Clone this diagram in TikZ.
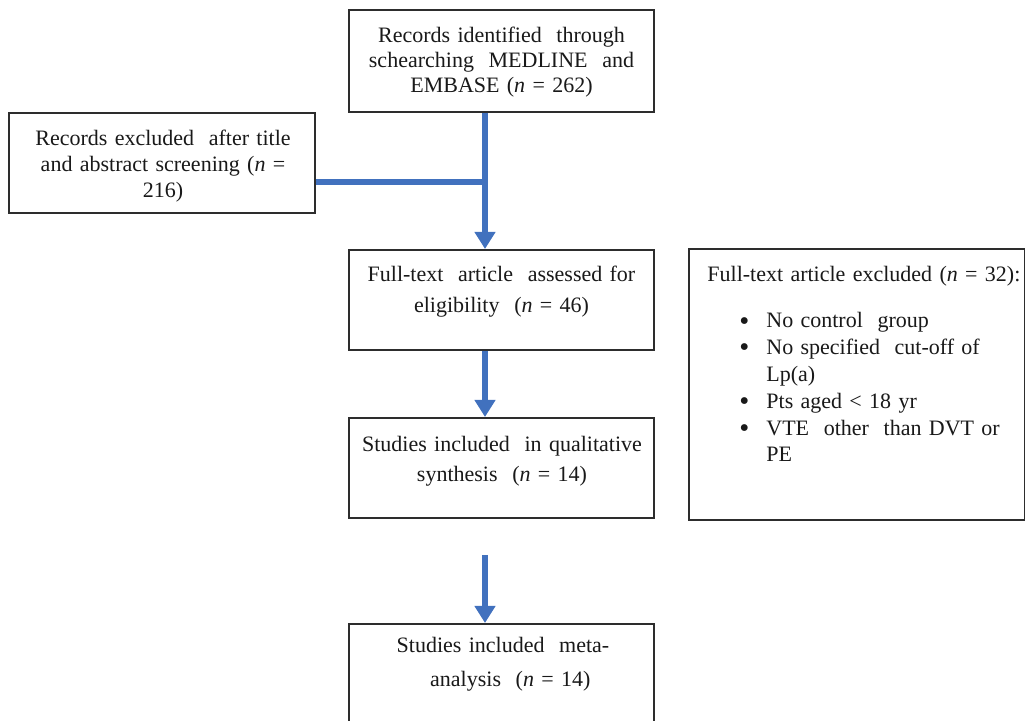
\documentclass[tikz,border=0pt]{standalone}
\usepackage{fontspec}
\setmainfont{Liberation Serif}
\usetikzlibrary{arrows.meta}
\definecolor{flowblue}{RGB}{65,113,190}
\definecolor{boxline}{RGB}{45,45,45}
\newcommand{\blt}{\raisebox{-1.1pt}{\scalebox{1.3}{\textbullet}}}
\tikzset{
  x=0.5pt, y=-0.5pt,
  box/.style={draw=boxline, line width=1pt, rectangle, inner sep=0pt, fill=white},
  txt/.style={inner sep=0pt, text width=150pt, align=center, anchor=base, text=black!90},
  conn/.style={draw=flowblue, line width=3pt},
  arr/.style={conn, -{Triangle[width=10pt,length=8.5pt]}},
}
\begin{document}
\begin{tikzpicture}
\useasboundingbox (0,0) rectangle (1025,721);
% boxes
\node[box, minimum width=152.5pt, minimum height=51pt] (top) at (501.5,61) {};
\node[box, minimum width=153pt, minimum height=50pt] (left) at (162,163) {};
\node[box, minimum width=152.5pt, minimum height=50pt] (full) at (501.5,300) {};
\node[box, minimum width=168pt, minimum height=135.5pt] (excl) at (857,384.5) {};
\node[box, minimum width=152.5pt, minimum height=50pt] (qual) at (501.5,468) {};
\node[box, minimum width=152.5pt, minimum height=52pt] (meta) at (501.5,676) {};
% texts
\node[txt, font=\fontsize{11}{12.5}\selectfont] (toptxt) at (501.5,43)
  {Records identified\ \ through\\ schearching\ \ MEDLINE\ \ and\\ EMBASE (\textit{n} = 262)};
\node[txt, font=\fontsize{11}{13}\selectfont] (lefttxt) at (163,146)
  {Records excluded\ \ after title\\ and abstract screening (\textit{n} =\\ 216)};
\node[txt, font=\fontsize{11}{15.5}\selectfont] (fulltxt) at (501.5,282)
  {Full-text\ \ article\ \ assessed for\\ eligibility\ \ (\textit{n} = 46)};
\node[txt, font=\fontsize{11}{15}\selectfont] (qualtxt) at (502,452)
  {Studies included\ \ in qualitative\\ synthesis\ \ (\textit{n} = 14)};
\node[txt, font=\fontsize{11}{17}\selectfont] (metatxt) at (503,653)
  {Studies included\ \ meta-\\ \ \ analysis\ \ (\textit{n} = 14)};
\node[txt, align=left, anchor=base west, text width=165pt, font=\fontsize{11}{13.4}\selectfont] (excltxt) at (707,282)
  {Full-text article excluded (\textit{n} = 32):\\[9.6pt]
   \hspace*{16pt}\makebox[13.5pt][l]{\blt}No control\ \ group\\
   \hspace*{16pt}\makebox[13.5pt][l]{\blt}No specified\ \ cut-off of\\
   \hspace*{29.5pt}Lp(a)\\
   \hspace*{16pt}\makebox[13.5pt][l]{\blt}Pts aged {<} 18 yr\\
   \hspace*{16pt}\makebox[13.5pt][l]{\blt}VTE\ \ other\ \ than DVT or\\
   \hspace*{29.5pt}PE};
% connectors
\coordinate (join) at (485,182);
\coordinate (start3) at (485,555);
\draw[conn] (left.east |- join) -- (join);
\draw[arr] (top.south -| join) -- (full.north -| join);
\draw[arr] (full.south -| join) -- (qual.north -| join);
\draw[arr] (start3) -- (meta.north -| start3);
\end{tikzpicture}
\end{document}
